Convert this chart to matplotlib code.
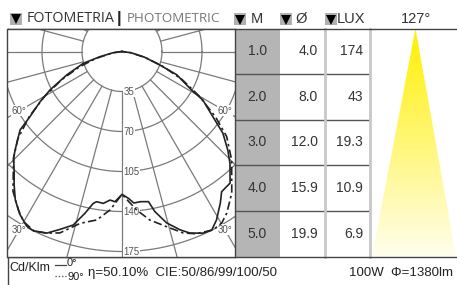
import numpy as np
import matplotlib.pyplot as plt
from matplotlib.patches import Rectangle, Polygon

plt.rcParams['font.family'] = ['Liberation Sans', 'DejaVu Sans']

# photometric curves, angle from nadir (deg) -> cd/klm
c0_left_ang = [0, 2.7, 4.6, 7, 9.6, 10.7, 12.9, 15.7, 19.2, 22.5, 26.4, 28.7, 32.2, 35.7, 39, 42, 45.5, 47.4, 52.4, 54.7, 58.5, 61.9, 67, 73, 76.7, 82, 90]
c0_left_cd = [125, 131.6, 130.4, 133.9, 133.3, 135.2, 145.2, 157.7, 164.8, 172, 175, 174, 168, 160, 150, 141, 133, 127, 112.6, 98.7, 84, 71.4, 52.6, 35.4, 19.8, 8, 0]
c0_right_ang = [0, 2.5, 4.5, 7, 10, 11.6, 14.6, 18, 20.5, 24, 26.7, 29.3, 33, 35.4, 39.4, 44, 47, 51, 54.3, 59, 61, 67, 70.4, 76, 82, 90]
c0_right_cd = [125, 128.6, 133, 132.4, 133.4, 143, 155, 164, 169.6, 174, 174.8, 169, 158, 150.5, 149, 136, 126.6, 113.6, 98, 82.6, 69.7, 52, 35, 20, 8, 0]

c90_left_ang = [0, 4.3, 8.5, 13.7, 18.9, 22.5, 26, 30, 33, 38, 45.5, 50, 55, 60, 65, 70, 75, 82, 90]
c90_left_cd = [125, 139, 149, 154.8, 167.8, 172, 175, 172, 166, 155, 133, 119, 99, 78, 58, 40, 24, 8, 0]
c90_right_ang = [0, 5.3, 9.4, 14.3, 18.6, 22, 27, 30.2, 33, 37.8, 45.3, 50.9, 55, 60, 65, 70, 75, 82, 90]
c90_right_cd = [125, 139.3, 149.5, 158.2, 167.5, 172, 175.3, 173.6, 168.4, 156.7, 135, 118, 100, 78, 58, 38, 22, 8, 0]

rings = [35, 70, 105, 140, 175]
angle_labels = [(60, '60°'), (30, '30°')]

# table
heights = ['1.0', '2.0', '3.0', '4.0', '5.0']
diameters = ['4.0', '8.0', '12.0', '15.9', '19.9']
lux = ['174', '43', '19.3', '10.9', '6.9']
beam_angle = '127°'
efficiency = 'η=50.10%  CIE:50/86/99/100/50'
lamp = '100W  Φ=1380lm'


def to_xy(ang, cd, side):
    a = np.radians(ang)
    cd = np.asarray(cd)
    return side * cd * np.sin(a), -cd * np.cos(a)


def curve(la, lc, ra, rc):
    xl, yl = to_xy(la, lc, -1)
    xr, yr = to_xy(ra, rc, 1)
    return np.r_[xl[::-1], xr], np.r_[yl[::-1], yr]


W, H = 457, 285
fig = plt.figure(figsize=(W / 100, H / 100), dpi=100)
ov = fig.add_axes([0, 0, 1, 1])
ov.set_xlim(0, W)
ov.set_ylim(H, 0)
ov.axis('off')

# polar diagram box
k = 40 / 35
cx, cy = 122, 51.5
L, R, T, B = 7.5, 234.5, 28.5, 256.5
ax = fig.add_axes([L / W, 1 - B / H, (R - L) / W, (B - T) / H])
ax.set_xlim((L - cx) / k, (R - cx) / k)
ax.set_ylim(-(B - cy) / k, (cy - T) / k)
ax.set_xticks([])
ax.set_yticks([])
for s in ax.spines.values():
    s.set_color('#444444')
    s.set_linewidth(1)

grid_c = '#7a7a7a'
t = np.linspace(0, 2 * np.pi, 400)
for r in rings + [210]:
    ax.plot(r * np.cos(t), r * np.sin(t), color=grid_c, lw=0.9, zorder=1)
for a in range(0, 360, 15):
    ar = np.radians(a)
    ax.plot([35 * np.sin(ar), 300 * np.sin(ar)], [-35 * np.cos(ar), -300 * np.cos(ar)],
            color=grid_c, lw=0.9, zorder=1)
for r in rings:
    ax.text(1.5, -r, str(r), fontsize=7, color='#555555', ha='left', va='center',
            bbox=dict(boxstyle='square,pad=0.05', fc='white', ec='none'), zorder=2)
for a, lab in angle_labels:
    rr = 104 if a == 60 else 180
    for side in (-1, 1):
        x, y = to_xy(a, rr, side)
        ax.text(x, y, lab, fontsize=7, color='#555555', ha='center', va='center',
                bbox=dict(boxstyle='square,pad=0.05', fc='white', ec='none'), zorder=2)

x0, y0 = curve(c0_left_ang, c0_left_cd, c0_right_ang, c0_right_cd)
ax.plot(x0, y0, color='#222222', lw=1.2, zorder=3)
x90, y90 = curve(c90_left_ang, c90_left_cd, c90_right_ang, c90_right_cd)
ax.plot(x90, y90, color='#222222', lw=1.2, dashes=(5, 2, 1.5, 2), zorder=3)

# table
col_m, col_d, col_l, col_end = 234.5, 280, 325, 370
row_h = (B - T) / len(heights)
ov.add_patch(Rectangle((col_m, T), col_d - col_m, B - T, fc='#b5b5b5', ec='none'))
for i in range(1, len(heights)):
    y = T + i * row_h
    ov.plot([col_m, col_end], [y, y], color='#555555', lw=1)
for x in (col_l, col_end):
    ov.plot([x, x], [T, B], color='#c8c8c8', lw=2)
for i, (m, d, lx) in enumerate(zip(heights, diameters, lux)):
    y = T + (i + 0.5) * row_h
    ov.text((col_m + col_d) / 2, y, m, fontsize=10, color='#333333', ha='center', va='center')
    ov.text(col_l - 7, y, d, fontsize=10, color='#333333', ha='right', va='center')
    ov.text(col_end - 7, y, lx, fontsize=10, color='#333333', ha='right', va='center')

# beam
apex_x = 415.5
grad = np.linspace(0, 1, 256)[:, None]
cols = np.array([1.0, 0.94, 0.0]) * (1 - grad[..., None]) + np.array([1.0, 0.995, 0.93]) * grad[..., None]
img = ov.imshow(np.repeat(cols, 2, axis=1), extent=(372, 457, B, T), aspect='auto', zorder=0)
tri = Polygon([(apex_x, T), (372, B), (456, B)], closed=True, transform=ov.transData)
img.set_clip_path(tri)
ov.set_xlim(0, W)
ov.set_ylim(H, 0)

# frame lines
ov.plot([7.5, W], [T, T], color='#444444', lw=1, zorder=5)
ov.plot([7.5, W], [B, B], color='#444444', lw=1, zorder=5)
ov.plot([7.5, 7.5], [T, H], color='#444444', lw=1, zorder=5)

# headers
def marker_box(x, y):
    ov.add_patch(Rectangle((x, y - 6), 12, 12, fc='#b0b0b0', ec='none'))
    ov.plot(x + 6, y + 0.5, marker='v', color='black', ms=7, mew=0)

marker_box(10, 18.5)
ov.text(26.5, 18.5, 'FOTOMETRIA', fontsize=10.3, color='#333333', va='center',
        family=['Open Sans', 'DejaVu Sans'])
ov.text(119.5, 18.5, '|', fontsize=12, color='#222222', va='center', ha='center', fontweight='bold')
ov.text(127, 18.5, 'PHOTOMETRIC', fontsize=9.6, color='#777777', va='center',
        family=['Open Sans', 'DejaVu Sans'])
marker_box(234, 19)
ov.text(251, 19, 'M', fontsize=10.5, color='#333333', va='center')
marker_box(280, 19)
ov.text(295, 19, 'Ø', fontsize=10.5, color='#333333', va='center')
marker_box(325, 19)
ov.text(337, 19, 'LUX', fontsize=10.5, color='#333333', va='center')
ov.text(416.5, 19, beam_angle, fontsize=10.5, color='#333333', va='center', ha='center')

# footer
ov.text(9, 268, 'Cd/Klm', fontsize=9, color='#222222', va='center')
ov.plot([55, 66], [265, 265], color='#444444', lw=0.9)
ov.plot([55, 66], [276, 276], color='#444444', lw=0.9, ls=':')
ov.text(67, 263.5, '0°', fontsize=8, color='#222222', va='center')
ov.text(67, 277, '90°', fontsize=8, color='#222222', va='center')
ov.text(88, 273, efficiency, fontsize=9.5, color='#222222', va='center')
ov.text(453, 273, lamp, fontsize=9.5, color='#222222', va='center', ha='right')

fig.savefig('out.png', dpi=100)
